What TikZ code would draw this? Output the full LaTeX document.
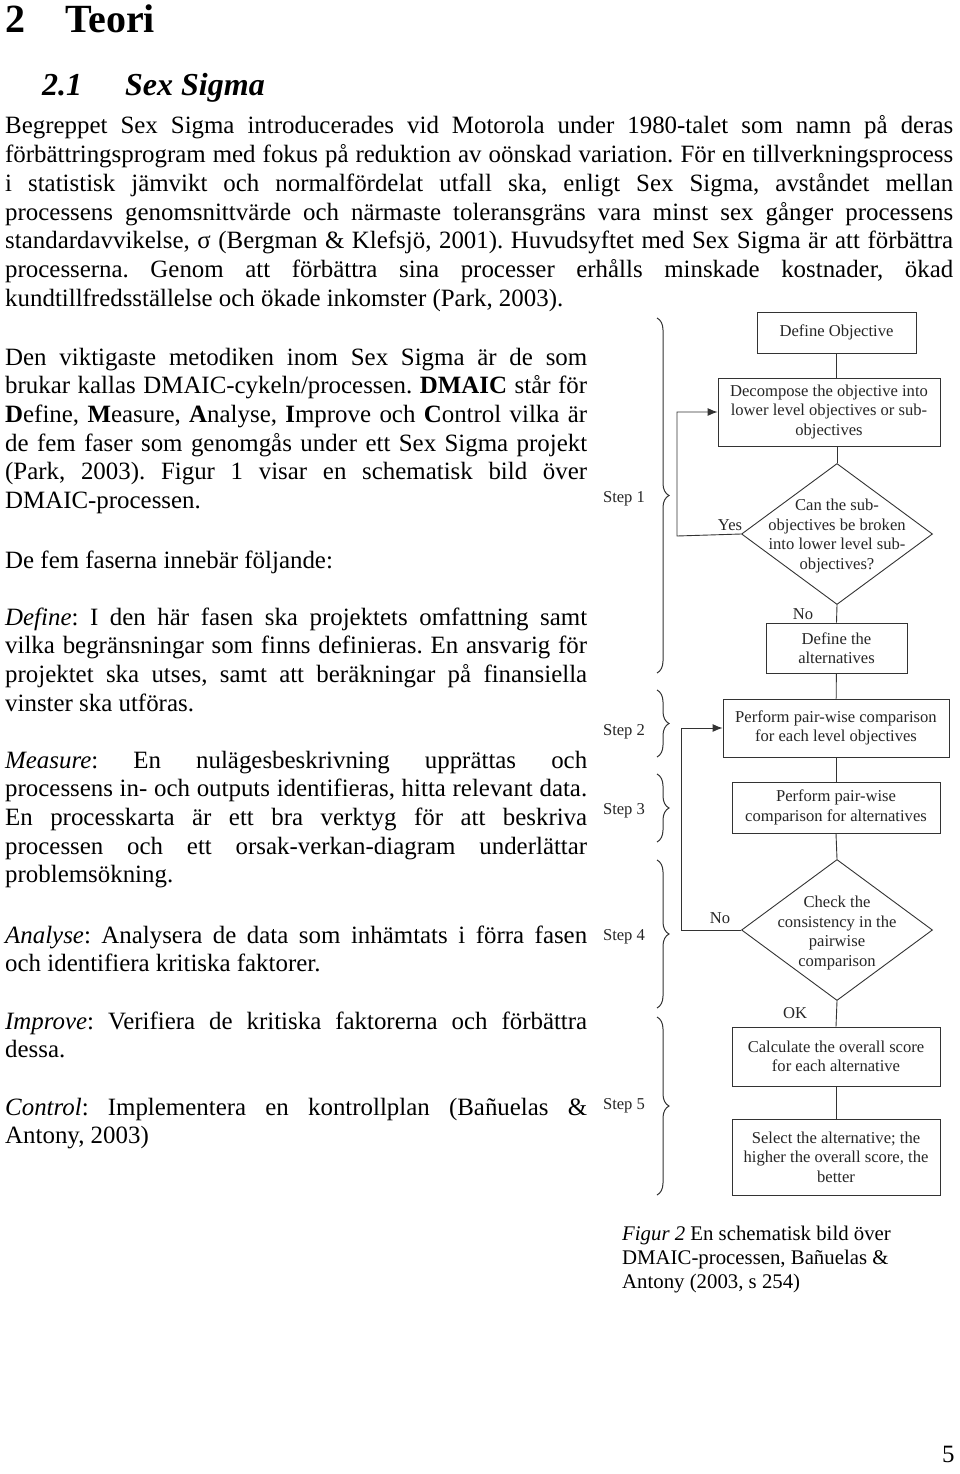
\documentclass[tikz,border=0pt]{standalone}
\usepackage{fontspec}
\setmainfont{Liberation Serif}
\usetikzlibrary{positioning,shapes.geometric,decorations.pathreplacing,arrows.meta}

\newcommand{\bodysize}{\fontsize{24.9}{28.7}\selectfont}
\newcommand{\chartsize}{\fontsize{16.6}{19.5}\selectfont}
% the font's own word spaces (align=left fixes them otherwise)
\newcommand{\natspace}{\spaceskip=0pt\relax\xspaceskip=0pt\relax}
\newsavebox{\linebox}
% one justified line: stretch the spaces, squeeze the line if it is too long
\newcommand{\jl}[1]{\sbox{\linebox}{#1}%
	\ifdim\wd\linebox>\hsize\resizebox{\hsize}{\height}{#1}\else\makebox[\hsize][s]{#1}\fi}

\begin{document}
\begin{tikzpicture}[
	x=1pt, y=-1pt,
	para/.style={
		anchor=base west,
		inner sep=0,
		align=left,
		font=\bodysize\frenchspacing,
	},
	fullpara/.style={para, text width=948pt},
	leftpara/.style={para, text width=582pt},
	rect/.style={
		draw=black!80,
		line width=0.9pt,
		rectangle,
		inner sep=1pt,
		align=center,
		font=\chartsize,
		text=black!85,
	},
	diam/.style={
		draw=black!80,
		line width=0.9pt,
		diamond,
		inner sep=0,
		minimum width=191pt,
		minimum height=141pt,
	},
	diamtext/.style={align=center, font=\chartsize, text=black!85, inner sep=0},
	edgelabel/.style={font=\chartsize, text=black!85, inner sep=0},
	steplabel/.style={font=\chartsize, text=black!85, inner sep=0},
	brace/.style={
		draw=black!80,
		line width=1pt,
		decorate,
		decoration={brace, amplitude=12pt},
	},
	link/.style={draw=black!80, line width=0.9pt},
	>={Latex[length=10pt,width=8pt]},
]
\useasboundingbox (0,0) rectangle (960,1474);
\fill[white] (0,0) rectangle (960,1474);

% headings
\node [anchor=base west, inner sep=0, font=\fontsize{40}{44}\selectfont\bfseries] (chapnum) at (5,33) {2};
\node [anchor=base west, inner sep=0, font=\fontsize{40}{44}\selectfont\bfseries] (chap) at (65,33) {Teori};
\node [anchor=base west, inner sep=0, font=\fontsize{32}{36}\selectfont\bfseries\itshape] (secnum) at (42,96) {2.1};
\node [anchor=base west, inner sep=0, font=\fontsize{32}{36}\selectfont\bfseries\itshape] (sec) at (125,96) {Sex Sigma};

% text
\node [fullpara] (intro) at (5,134) {\natspace
\jl{Begreppet Sex Sigma introducerades vid Motorola under 1980-talet som namn på deras}\\
\jl{förbättringsprogram med fokus på reduktion av oönskad variation. För en tillverkningsprocess}\\
\jl{i statistisk jämvikt och normalfördelat utfall ska, enligt Sex Sigma, avståndet mellan}\\
\jl{processens genomsnittvärde och närmaste toleransgräns vara minst sex gånger processens}\\
\jl{standardavvikelse, σ (Bergman \& Klefsjö, 2001). Huvudsyftet med Sex Sigma är att förbättra}\\
\jl{processerna. Genom att förbättra sina processer erhålls minskade kostnader, ökad}\\
kundtillfredsställelse och ökade inkomster (Park, 2003).};

\node [leftpara] (dmaic) at (5,365) {\natspace
\jl{Den viktigaste metodiken inom Sex Sigma är de som}\\
\jl{brukar kallas DMAIC-cykeln/processen. \textbf{DMAIC} står för}\\
\jl{\textbf{D}efine, \textbf{M}easure, \textbf{A}nalyse, \textbf{I}mprove och \textbf{C}ontrol vilka är}\\
\jl{de fem faser som genomgås under ett Sex Sigma projekt}\\
\jl{(Park, 2003). Figur 1 visar en schematisk bild över}\\
DMAIC-processen.};

\node [leftpara] (phases) at (5,568) {\natspace De fem faserna innebär följande:};

\node [leftpara] (define) at (5,625) {\natspace
\jl{\textit{Define}: I den här fasen ska projektets omfattning samt}\\
\jl{vilka begränsningar som finns definieras. En ansvarig för}\\
\jl{projektet ska utses, samt att beräkningar på finansiella}\\
vinster ska utföras.};

\node [leftpara] (measure) at (5,768) {\natspace
\jl{\textit{Measure}: En nulägesbeskrivning upprättas och}\\
\jl{processens in- och outputs identifieras, hitta relevant data.}\\
\jl{En processkarta är ett bra verktyg för att beskriva}\\
\jl{processen och ett orsak-verkan-diagram underlättar}\\
problemsökning.};

\node [leftpara] (analyse) at (5,943) {\natspace
\jl{\textit{Analyse}: Analysera de data som inhämtats i förra fasen}\\
och identifiera kritiska faktorer.};

\node [leftpara] (improve) at (5,1029) {\natspace
\jl{\textit{Improve}: Verifiera de kritiska faktorerna och förbättra}\\
dessa.};

\node [leftpara] (control) at (5,1115) {\natspace
\jl{\textit{Control}: Implementera en kontrollplan (Bañuelas \&}\\
Antony, 2003)};

% flow chart
\node [rect, minimum width=159pt, minimum height=41pt] (defobj) at (836.5,332.5) {Define Objective};
\node [rect, minimum width=222pt, minimum height=68pt] (decomp) at (829,412) {Decompose the objective into\\lower level objectives or sub-\\objectives};
\node [diam] (q1) at (837,534) {};
\node [diamtext] (q1text) at (837,536) {Can the sub-\\objectives be broken\\into lower level sub-\\objectives?};
\node [rect, minimum width=141pt, minimum height=50pt] (defalt) at (836.5,648) {Define the\\alternatives};
\node [rect, minimum width=226pt, minimum height=58pt] (pwobj) at (836,728) {Perform pair-wise comparison\\for each level objectives};
\node [rect, minimum width=208pt, minimum height=51pt] (pwalt) at (836,807.5) {Perform pair-wise\\comparison for alternatives};
\node [diam] (q2) at (837,930) {};
\node [diamtext] (q2text) at (837,933) {Check the\\consistency in the\\pairwise\\comparison};
\node [rect, minimum width=208pt, minimum height=59pt] (calc) at (836,1056.5) {Calculate the overall score\\for each alternative};
\node [rect, minimum width=208pt, minimum height=76pt] (select) at (836,1157) {Select the alternative; the\\higher the overall score, the\\better};

\node [edgelabel] (yes) at (730,525) {Yes};
\node [edgelabel] (no1) at (803,614) {No};
\node [edgelabel] (no2) at (720,918) {No};
\node [edgelabel] (ok) at (795,1013) {OK};

\coordinate (yesturn) at (677,536);
\coordinate (returnturn) at (681,930);

\draw [link] (defobj.south) -- (defobj.south |- decomp.north);
\draw [link] (q1.north |- decomp.south) -- (q1.north);
\draw [link] (q1.south) -- (defalt.north);
\draw [link] (defalt) -- (pwobj);
\draw [link] (pwobj) -- (pwalt);
\draw [link] (pwalt.south) -- (q2.north);
\draw [link] (q2.south) -- (calc.north);
\draw [link] (calc) -- (select);
\draw [link, ->] (q1.west) -- (yesturn) |- (decomp.west);
\draw [link, ->] (q2.west) -- (returnturn) |- (pwobj.west);

% steps
\node [steplabel] (step1) at (624,499) {Step 1};
\node [steplabel] (step2) at (624,732) {Step 2};
\node [steplabel] (step3) at (624,811) {Step 3};
\node [steplabel] (step4) at (624,937) {Step 4};
\node [steplabel] (step5) at (624,1106) {Step 5};
\draw [brace] (657,318) -- (657,673);
\draw [brace] (657,690) -- (657,757);
\draw [brace] (657,774) -- (657,842);
\draw [brace] (657,860) -- (657,1008);
\draw [brace] (657,1017) -- (657,1195);

% caption
\node [anchor=base west, inner sep=0, text width=320pt, align=left, font=\fontsize{20.8}{24}\selectfont] (caption) at (622,1240) {\natspace\textit{Figur 2} En schematisk bild över\\DMAIC-processen, Bañuelas \&\\Antony (2003, s 254)};

\node [anchor=base west, inner sep=0, font=\bodysize] (pagenum) at (942,1462) {5};
\end{tikzpicture}
\end{document}
